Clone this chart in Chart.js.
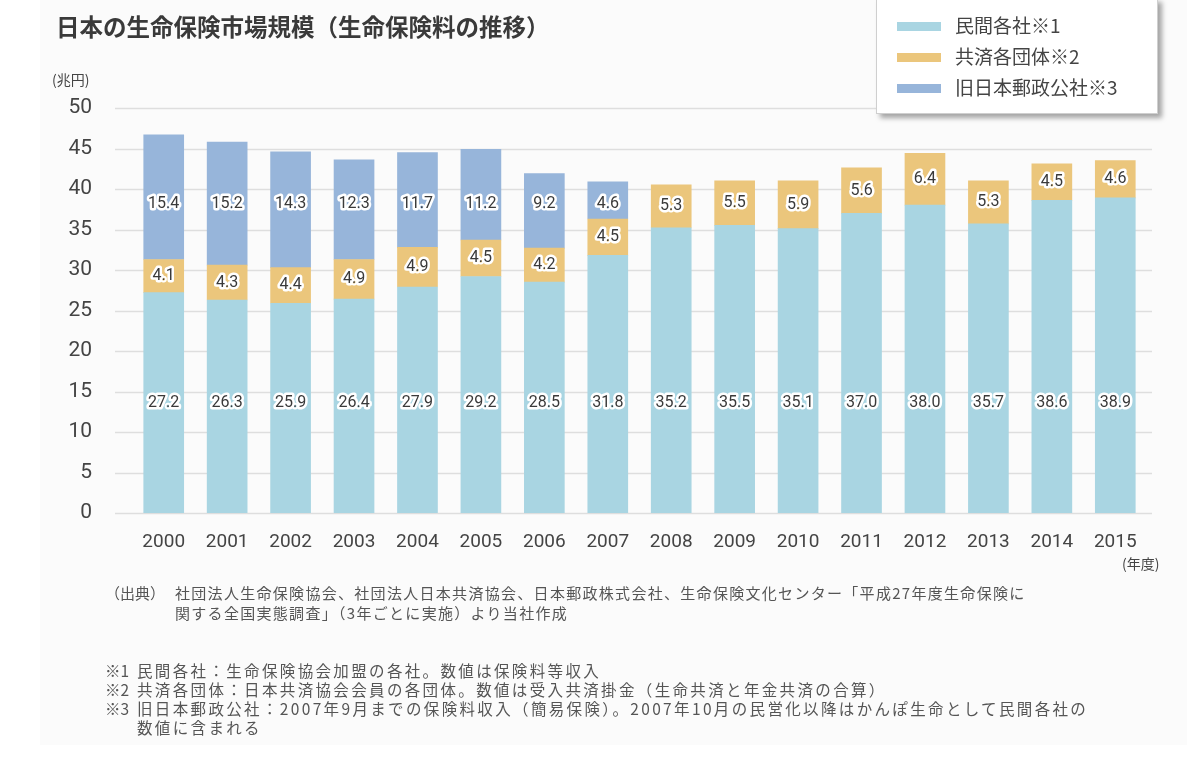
<!DOCTYPE html>
<html lang="ja">
<head>
<meta charset="utf-8">
<script src="https://cdn.jsdelivr.net/npm/chart.js@4"></script>
<style>
  html, body { margin: 0; padding: 0; background: #ffffff; }
  body { width: 1200px; height: 758px; position: relative; overflow: hidden;
         font-family: "Noto Sans CJK JP", "Noto Sans", sans-serif; color: #444; }
  #panel { position: absolute; left: 40px; top: 0; width: 1147px; height: 745px; background: #fbfbfb; }
  #chart { position: absolute; left: 0; top: 0; }
  .txt { position: absolute; white-space: nowrap; }
  #title { left: 56px; top: 9px; font-size: 23.5px; font-weight: bold; color: #3a3a3a; }
  #unit { left: 52px; top: 69px; font-size: 14px; color: #444; }
  #nendo { left: 1122px; top: 553px; font-size: 14px; color: #444; }
  #legend { position: absolute; left: 876px; top: -2px; width: 280px; height: 114px;
            background: #fff; border: 1px solid #cfcfcf; box-shadow: 4px 4px 5px rgba(0,0,0,0.35); }
  .li { position: absolute; left: 20px; height: 22px; font-size: 19px; color: #444; }
  .sw { position: absolute; left: 0; top: 7px; width: 44px; height: 9px; }
  .lt { position: absolute; left: 58px; top: -4px; white-space: nowrap; }
  #src { left: 105px; top: 583px; font-size: 15px; color: #555; line-height: 20px; letter-spacing: 1.3px; }
  #notes { left: 105px; top: 661px; font-size: 15.5px; color: #555; line-height: 19px; letter-spacing: 2.35px; }
  .row { position: relative; }
  .lab { display: inline-block; width: 32px; letter-spacing: 0; }
  .ind { padding-left: 70px; }
  .ind2 { padding-left: 32px; }
</style>
</head>
<body>
<div id="panel"></div>
<canvas id="chart" width="1200" height="758"></canvas>
<div class="txt" id="title">日本の生命保険市場規模（生命保険料の推移）</div>
<div class="txt" id="unit">(兆円)</div>
<div class="txt" id="nendo">(年度)</div>
<div id="legend"></div>
<div class="txt" id="src">
  <div class="row"><span style="display:inline-block;width:70px;letter-spacing:0">（出典）</span>社団法人生命保険協会、社団法人日本共済協会、日本郵政株式会社、生命保険文化センター「平成27年度生命保険に</div>
  <div class="row ind">関する全国実態調査」（3年ごとに実施）より当社作成</div>
</div>
<div class="txt" id="notes">
  <div class="row"><span class="lab">※1</span>民間各社：生命保険協会加盟の各社。数値は保険料等収入</div>
  <div class="row"><span class="lab">※2</span>共済各団体：日本共済協会会員の各団体。数値は受入共済掛金（生命共済と年金共済の合算）</div>
  <div class="row"><span class="lab">※3</span>旧日本郵政公社：2007年9月までの保険料収入（簡易保険）。2007年10月の民営化以降はかんぽ生命として民間各社の</div>
  <div class="row ind2">数値に含まれる</div>
</div>
<script>
const categories = ["2000","2001","2002","2003","2004","2005","2006","2007","2008","2009","2010","2011","2012","2013","2014","2015"];
const seriesNames = ["民間各社※1", "共済各団体※2", "旧日本郵政公社※3"];
const minkan = [27.2,26.3,25.9,26.4,27.9,29.2,28.5,31.8,35.2,35.5,35.1,37.0,38.0,35.7,38.6,38.9];
const kyosai = [4.1,4.3,4.4,4.9,4.9,4.5,4.2,4.5,5.3,5.5,5.9,5.6,6.4,5.3,4.5,4.6];
const yusei  = [15.4,15.2,14.3,12.3,11.7,11.2,9.2,4.6,null,null,null,null,null,null,null,null];
const yTicks = [0,5,10,15,20,25,30,35,40,45,50];

const colors = ["#a9d5e2", "#ebc67c", "#97b5da"];

// legend (HTML)
const lg = document.getElementById('legend');
seriesNames.forEach((n, i) => {
  const d = document.createElement('div');
  d.className = 'li';
  d.style.top = (16 + i * 31) + 'px';
  d.innerHTML = '<span class="sw" style="background:' + colors[i] + '"></span><span class="lt">' + n + '</span>';
  lg.appendChild(d);
});

const gridPlugin = {
  id: 'extGrid',
  beforeDatasetsDraw(chart) {
    const { ctx, chartArea, scales: { y } } = chart;
    ctx.save();
    ctx.strokeStyle = '#dedede';
    ctx.lineWidth = 1.5;
    yTicks.forEach(v => {
      const py = Math.round(y.getPixelForValue(v)) + 0.5;
      ctx.beginPath();
      ctx.moveTo(chartArea.left - 17, py);
      ctx.lineTo(chartArea.right + 5, py);
      ctx.stroke();
    });
    ctx.restore();
  }
};

const labelPlugin = {
  id: 'segLabels',
  afterDatasetsDraw(chart) {
    const { ctx, scales: { y } } = chart;
    ctx.save();
    ctx.font = '16px Roboto, "Noto Sans", sans-serif';
    ctx.textAlign = 'center';
    ctx.textBaseline = 'middle';
    ctx.lineJoin = 'round';
    chart.data.datasets.forEach((ds, di) => {
      const meta = chart.getDatasetMeta(di);
      meta.data.forEach((bar, i) => {
        const v = ds.data[i];
        if (v === null || v === undefined) return;
        let py;
        if (di === 0) py = y.getPixelForValue(13.6);
        else if (di === 2) py = y.getPixelForValue(38.1);
        else py = (bar.y + bar.base) / 2;
        const t = v.toFixed(1);
        ctx.strokeStyle = '#ffffff';
        ctx.lineWidth = 5;
        ctx.strokeText(t, bar.x, py);
        ctx.fillStyle = '#3a3a3a';
        ctx.fillText(t, bar.x, py);
      });
    });
    ctx.restore();
  }
};

new Chart(document.getElementById('chart'), {
  type: 'bar',
  data: {
    labels: categories,
    datasets: [
      { label: seriesNames[0], data: minkan, backgroundColor: colors[0] },
      { label: seriesNames[1], data: kyosai, backgroundColor: colors[1] },
      { label: seriesNames[2], data: yusei, backgroundColor: colors[2] }
    ]
  },
  options: {
    responsive: false,
    devicePixelRatio: 1,
    animation: false,
    layout: { padding: { left: 0, right: 53, top: 108, bottom: 205 } },
    datasets: { bar: { barThickness: 40 } },
    plugins: { legend: { display: false }, tooltip: { enabled: false } },
    scales: {
      x: {
        stacked: true,
        grid: { display: false, drawTicks: false },
        border: { display: false },
        ticks: { color: '#444', font: { family: 'Roboto, "Noto Sans", sans-serif', size: 19 }, padding: 18, maxRotation: 0 },
        afterFit(s) { s.height = 40; }
      },
      y: {
        stacked: true,
        min: 0, max: 50,
        grid: { display: false, drawTicks: false },
        border: { display: false },
        ticks: { stepSize: 5, color: '#444', font: { family: 'Roboto, "Noto Sans", sans-serif', size: 21 }, padding: 40 },
        afterFit(s) { s.width = 132; }
      }
    }
  },
  plugins: [gridPlugin, labelPlugin]
});
</script>
</body>
</html>
